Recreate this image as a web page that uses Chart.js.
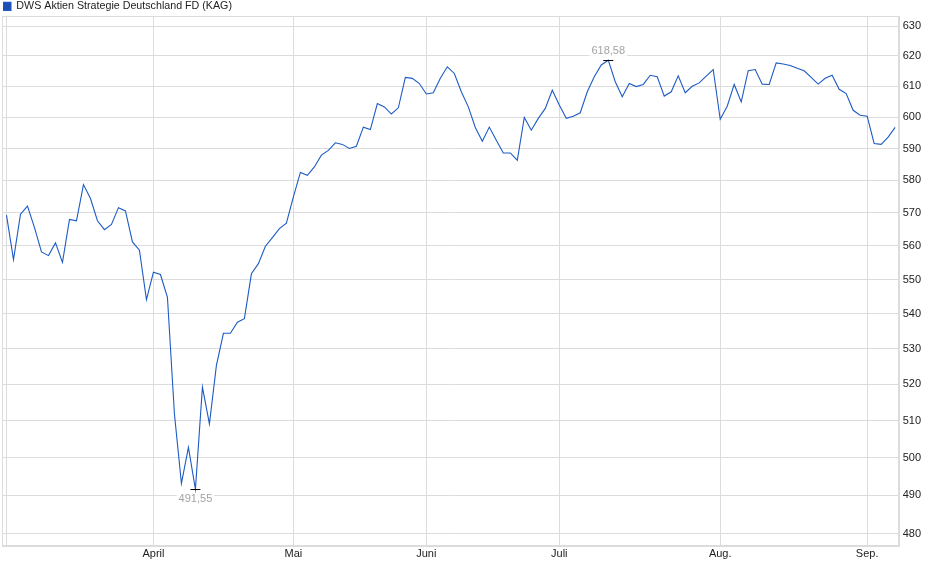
<!DOCTYPE html>
<html>
<head>
<meta charset="utf-8">
<script src="https://cdn.jsdelivr.net/npm/chart.js@4.4.1/dist/chart.umd.min.js"></script>
<style>
  html, body { margin: 0; padding: 0; background: #fff; }
</style>
</head>
<body>
<canvas id="fundChart" width="940" height="579"></canvas>
<script>
// trading days per month (2025)
const marDays = [3, 4, 5, 6, 7, 10, 11, 12, 13, 14, 17, 18, 19, 20, 21, 24, 25, 26, 27, 28, 31];
const aprDays = [1, 2, 3, 4, 7, 8, 9, 10, 11, 14, 15, 16, 17, 22, 23, 24, 25, 28, 29, 30];
const mayDays = [2, 5, 6, 7, 8, 9, 12, 13, 14, 15, 16, 19, 20, 21, 22, 23, 26, 27, 30];
const junDays = [2, 3, 4, 5, 6, 10, 11, 12, 13, 16, 17, 18, 20, 23, 24, 25, 26, 27, 30];
const julDays = [1, 2, 3, 4, 7, 8, 9, 10, 11, 14, 15, 16, 17, 18, 21, 22, 23, 24, 25, 28, 29, 30, 31];
const augDays = [1, 4, 5, 6, 7, 8, 11, 12, 13, 14, 15, 18, 19, 20, 21, 22, 25, 26, 27, 28, 29];
const sepDays = [1, 2, 3, 4, 5];

// fund prices
const marValues = [569.3, 555.9, 569.6, 572.1, 565.5, 558.2, 557.1, 560.9, 555.1, 568.0, 567.6,
                   578.7, 574.4, 567.6, 564.9, 566.5, 571.6, 570.6, 561.2, 558.7, 544.1];
const aprValues = [552.2, 551.5, 544.8, 511.8, 493.1, 502.7, 491.55, 519.2, 509.1, 525.3,
                   534.4, 534.4, 537.6, 538.6, 551.7, 554.7, 559.9, 562.5, 565.2, 566.9];
const mayValues = [574.9, 582.5, 581.6, 584.2, 587.9, 589.4, 591.8, 591.3, 590.0, 590.7,
                   596.8, 596.0, 604.4, 603.3, 601.0, 603.0, 612.9, 612.6, 610.9];
const junValues = [607.5, 607.9, 612.6, 616.4, 614.2, 608.2, 603.3, 596.7, 592.3, 596.8,
                   592.6, 588.6, 588.6, 586.3, 599.9, 595.8, 599.6, 602.8, 608.7];
const julValues = [603.9, 599.6, 600.3, 601.4, 608.2, 613.1, 617.0, 618.58, 611.5, 606.6, 610.9,
                   609.9, 610.6, 613.6, 613.1, 606.8, 608.2, 613.4, 607.9, 610.0, 611.1, 613.3, 615.5];
const augValues = [599.3, 603.5, 610.6, 604.9, 615.1, 615.5, 610.7, 610.6, 617.7, 617.3, 616.8,
                   615.9, 615.1, 612.9, 610.7, 612.6, 613.6, 609.0, 607.6, 602.2, 600.6];
const sepValues = [600.3, 591.6, 591.3, 593.6, 596.7];

const monthNames = ['', 'April', 'Mai', 'Juni', 'Juli', 'Aug.', 'Sep.'];
const yTicks = [480, 490, 500, 510, 520, 530, 540, 550, 560, 570, 580, 590, 600, 610, 620, 630];

const months = [
    [3, marDays, marValues], [4, aprDays, aprValues], [5, mayDays, mayValues],
    [6, junDays, junValues], [7, julDays, julValues], [8, augDays, augValues], [9, sepDays, sepValues]
];

const labels = [];
const prices = [];
const monthStart = {};
months.forEach(function (m, mi) {
    monthStart[labels.length] = monthNames[mi];
    m[1].forEach(function (d, i) {
        labels.push(d + '.' + m[0] + '.2025');
        prices.push(m[2][i]);
    });
});

const gridColor = '#dcdcdc';

// shrink the legend so the plot starts right below it
const legendHeight = {
    id: 'legendHeight',
    beforeInit(chart) {
        const legend = chart.legend;
        const fit = legend.fit;
        legend.fit = function () {
            fit.call(this);
            this.height = 15;
        };
    }
};

// frame round the plot area
const plotFrame = {
    id: 'plotFrame',
    beforeDatasetsDraw(chart) {
        const a = chart.chartArea;
        const ctx = chart.ctx;
        ctx.save();
        ctx.strokeStyle = gridColor;
        ctx.lineWidth = 1;
        ctx.strokeRect(Math.round(a.left) - 0.5, Math.round(a.top) + 0.5,
            Math.round(a.right - a.left) + 1, Math.round(a.bottom - a.top));
        ctx.restore();
    }
};

// high / low markers
const extremes = {
    id: 'extremes',
    afterDatasetsDraw(chart) {
        const data = chart.data.datasets[0].data;
        let lo = 0, hi = 0;
        data.forEach(function (v, i) {
            if (v < data[lo]) lo = i;
            if (v > data[hi]) hi = i;
        });
        const ctx = chart.ctx;
        const xs = chart.scales.x, ys = chart.scales.y;
        ctx.save();
        ctx.font = '11px "Liberation Sans", Arial, sans-serif';
        ctx.textAlign = 'center';
        ctx.textBaseline = 'middle';
        [[hi, -9.5], [lo, 9.5]].forEach(function (p) {
            const x = xs.getPixelForValue(p[0]);
            const y = Math.round(ys.getPixelForValue(data[p[0]])) + 0.5;
            ctx.strokeStyle = '#000';
            ctx.lineWidth = 1;
            ctx.beginPath();
            ctx.moveTo(x - 5, y);
            ctx.lineTo(x + 5, y);
            ctx.stroke();
            const text = data[p[0]].toFixed(2).replace('.', ',');
            const w = ctx.measureText(text).width + 4;
            ctx.fillStyle = 'rgba(255,255,255,0.85)';
            ctx.fillRect(x - w / 2, y + p[1] - 6, w, 12);
            ctx.fillStyle = '#a3a3a3';
            ctx.fillText(text, x, y + p[1]);
        });
        ctx.restore();
    }
};

Chart.defaults.font.family = '"Liberation Sans", Arial, sans-serif';
Chart.defaults.font.size = 11;
Chart.defaults.color = '#222';

new Chart(document.getElementById('fundChart'), {
    type: 'line',
    data: {
        labels: labels,
        datasets: [{
            label: 'DWS Aktien Strategie Deutschland FD (KAG)',
            data: prices,
            borderColor: '#1d5bc4',
            backgroundColor: '#1f4fb2',
            borderWidth: 1.1,
            pointRadius: 0,
            tension: 0,
            fill: false
        }]
    },
    options: {
        responsive: false,
        animation: false,
        layout: { padding: { top: 1, left: 3, right: 15, bottom: 16 } },
        plugins: {
            legend: {
                position: 'top',
                align: 'start',
                labels: { boxWidth: 8, boxHeight: 8, padding: 0, color: '#222', font: { size: 10.7 } }
            },
            tooltip: { enabled: false }
        },
        scales: {
            x: {
                type: 'category',
                offset: true,
                grid: {
                    offset: false,
                    drawTicks: false,
                    color: function (ctx) {
                        return (ctx.index in monthStart) ? gridColor : 'rgba(0,0,0,0)';
                    }
                },
                border: { display: true, color: gridColor },
                ticks: {
                    autoSkip: false,
                    maxRotation: 0,
                    padding: 2,
                    color: '#222',
                    callback: function (value, index) {
                        return (index in monthStart) ? monthStart[index] : '';
                    }
                }
            },
            y: {
                type: 'logarithmic',
                position: 'right',
                min: 476.9,
                max: 633.4,
                afterBuildTicks: function (scale) {
                    scale.ticks = yTicks.map(function (v) { return { value: v }; });
                },
                grid: { color: gridColor, drawTicks: false },
                border: { display: true, color: gridColor },
                ticks: {
                    autoSkip: false,
                    padding: 4,
                    color: '#222',
                    callback: function (value) { return String(value); }
                }
            }
        }
    },
    plugins: [legendHeight, plotFrame, extremes]
});
</script>
</body>
</html>
